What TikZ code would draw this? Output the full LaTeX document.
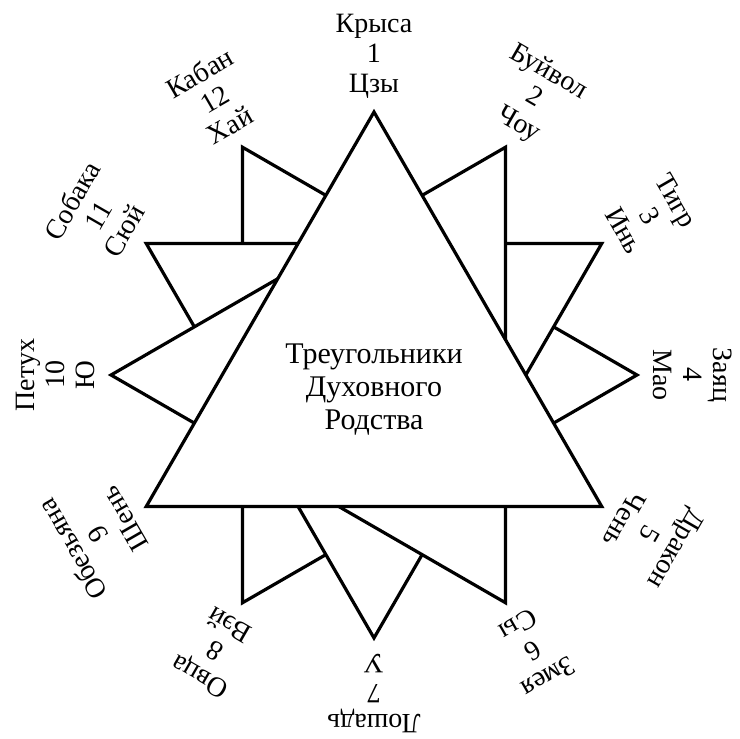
\documentclass[tikz,border=0pt]{standalone}
\usepackage{fontspec}
\setmainfont{Liberation Serif}
\usepackage{tikz}
\usetikzlibrary{calc}

\begin{document}
\begin{tikzpicture}[x=1pt,y=1pt,
  tri/.style={draw,fill=white,line width=3.2pt,line join=miter},
  lbl/.style={align=center,inner sep=0pt,font=\fontsize{28}{30}\selectfont},
  ttl/.style={align=center,inner sep=0pt,font=\fontsize{30}{33}\selectfont}]
\useasboundingbox (-374,-364) rectangle (366,375);
% vertices of the four triangles
\coordinate (v1) at (90:263);
\coordinate (v2) at (60:263);
\coordinate (v3) at (30:263);
\coordinate (v4) at (0:263);
\coordinate (v5) at (-30:263);
\coordinate (v6) at (-60:263);
\coordinate (v7) at (-90:263);
\coordinate (v8) at (-120:263);
\coordinate (v9) at (-150:263);
\coordinate (v10) at (180:263);
\coordinate (v11) at (150:263);
\coordinate (v12) at (120:263);
% triangles, back to front
\filldraw[tri] (v12) -- (v4) -- (v8) -- cycle;
\filldraw[tri] (v11) -- (v3) -- (v7) -- cycle;
\filldraw[tri] (v10) -- (v2) -- (v6) -- cycle;
\filldraw[tri] (v1) -- (v5) -- (v9) -- cycle;
\node[ttl] (title) at (0,-15) {Треугольники\\Духовного\\Родства};
% signs
\node[lbl,rotate=0] (rat) at (90:319) {Крыса\\1\\Цзы};
\node[lbl,rotate=-30] (ox) at (60:319) {Буйвол\\2\\Чоу};
\node[lbl,rotate=-60] (tiger) at (30:319) {Тигр\\3\\Инь};
\node[lbl,rotate=-90] (hare) at (0:319) {Заяц\\4\\Мао};
\node[lbl,rotate=-120] (dragon) at (-30:319) {Дракон\\5\\Чень};
\node[lbl,rotate=-150] (snake) at (-60:319) {Змея\\6\\Сы};
\node[lbl,rotate=180] (horse) at (-90:319) {Лошадь\\7\\У};
\node[lbl,rotate=150] (sheep) at (-120:319) {Овца\\8\\Вэй};
\node[lbl,rotate=120] (monkey) at (-150:319) {Обезьяна\\9\\Шень};
\node[lbl,rotate=90] (rooster) at (180:319) {Петух\\10\\Ю};
\node[lbl,rotate=60] (dog) at (150:319) {Собака\\11\\Сюй};
\node[lbl,rotate=30] (boar) at (120:319) {Кабан\\12\\Хай};
\end{tikzpicture}
\end{document}
